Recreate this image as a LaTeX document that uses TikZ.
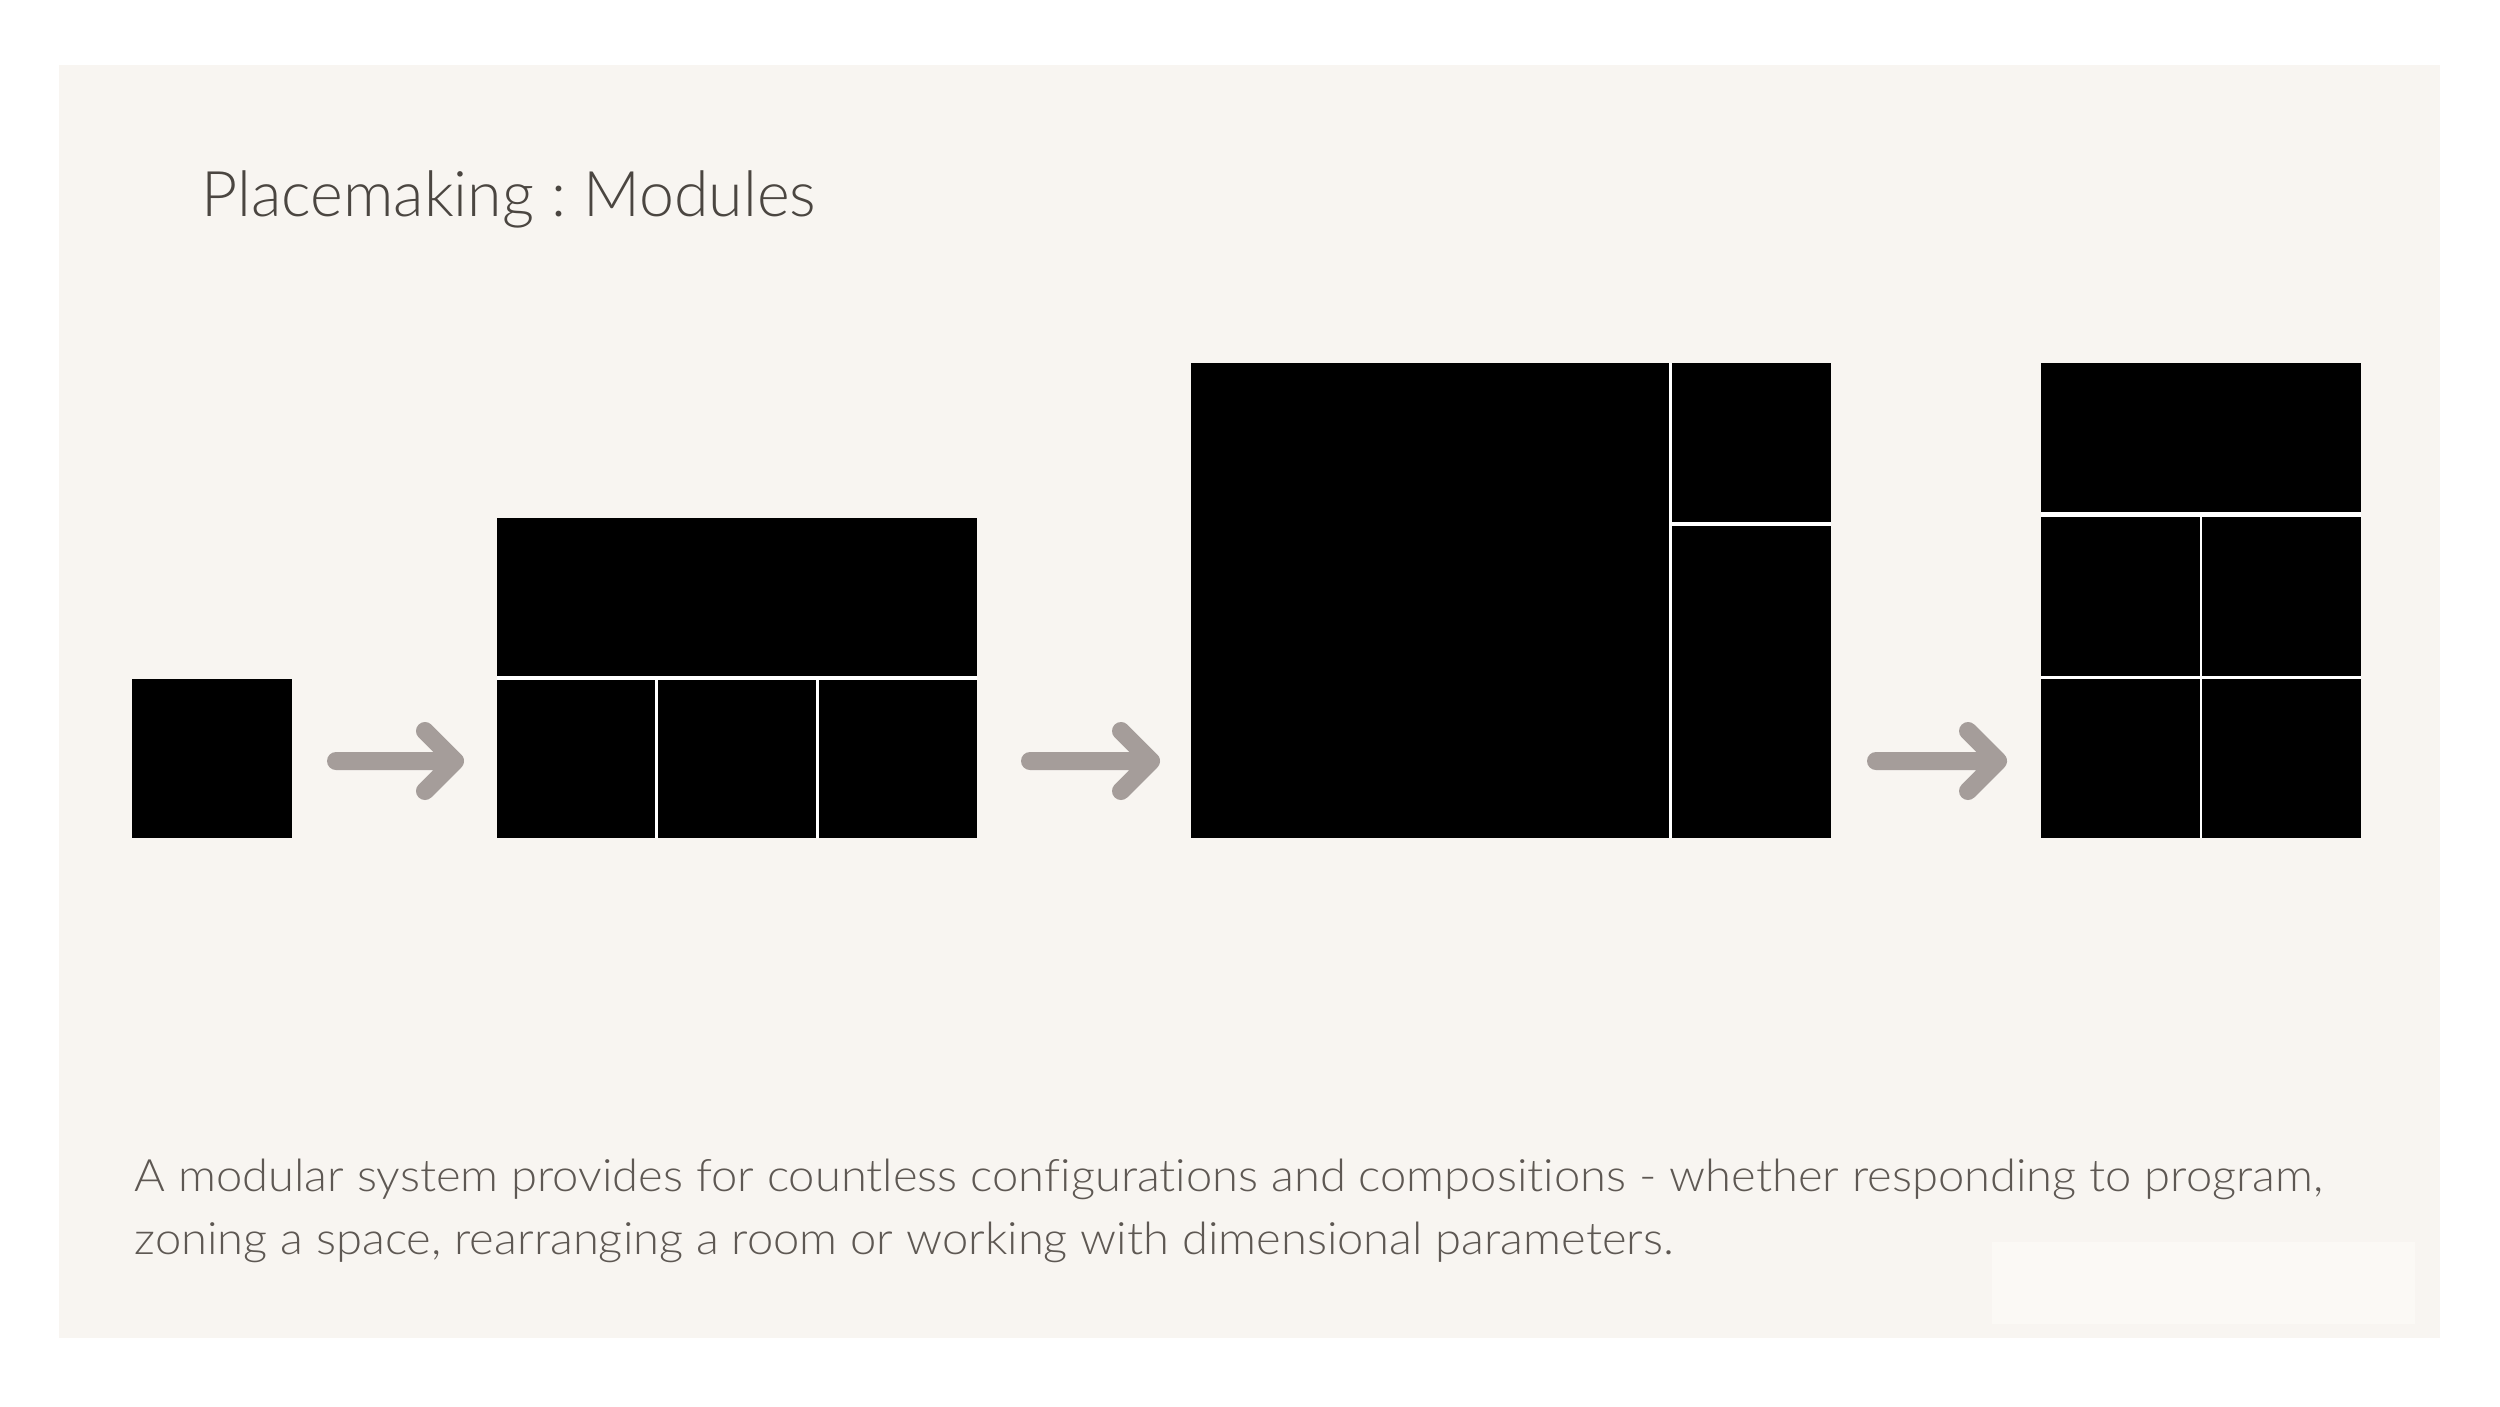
\documentclass[tikz,border=0pt]{standalone}
\usepackage{fontspec}
\usepackage{tikz}
\usetikzlibrary{positioning}
\newfontfamily\titlefont{Lato Light}[FakeStretch=0.995, Ligatures=NoCommon]
\newfontfamily\bodyfont{Lato Light}[FakeStretch=1.055, Ligatures=NoCommon]
\frenchspacing

\definecolor{panelbg}{HTML}{F8F5F1}
\definecolor{panelhi}{HTML}{FBF9F5}
\definecolor{arrowgrey}{HTML}{A59D9A}
\definecolor{titlegrey}{HTML}{4B4641}
\definecolor{bodygrey}{HTML}{5E5853}

\begin{document}
\begin{tikzpicture}[
  x=0.01cm, y=-0.01cm,
  module/.style={fill=black, inner sep=0pt, outer sep=0pt, anchor=north west},
  modarrow/.style={draw=arrowgrey, line width=0.18cm, line cap=round, line join=round},
  caption/.style={anchor=base west, inner sep=0pt, text=bodygrey, font=\bodyfont\fontsize{12.7}{17.9}\selectfont}
]
\useasboundingbox (0,0) rectangle (2500,1406);
\fill[white] (0,0) rectangle (2500,1406);
\fill[panelbg] (59,65) rectangle (2440,1338);
\fill[panelhi] (1992,1242) rectangle (2415,1324);

% title
\node[anchor=base west, inner sep=0pt, text=titlegrey, font=\titlefont\fontsize{17.9}{21}\selectfont]
  (title) at (201,216) {Placemaking : Modules};

% single module
\node[module, minimum width=1.6cm, minimum height=1.59cm] (one) at (132,679) {};

% row of three under a bar
\fill[white] (497,518) rectangle (977,838);
\node[module, minimum width=4.8cm, minimum height=1.58cm] (twotop) at (497,518) {};
\node[module, minimum width=1.58cm, minimum height=1.58cm] (twoa) at (497,680) {};
\node[module, minimum width=1.58cm, minimum height=1.58cm] (twob) at (658,680) {};
\node[module, minimum width=1.58cm, minimum height=1.58cm] (twoc) at (819,680) {};

% large room with side column
\fill[white] (1191,363) rectangle (1831,838);
\node[module, minimum width=4.78cm, minimum height=4.75cm] (threebig) at (1191,363) {};
\node[module, minimum width=1.59cm, minimum height=1.59cm] (threetop) at (1672,363) {};
\node[module, minimum width=1.59cm, minimum height=3.12cm] (threelow) at (1672,526) {};

% bar over a grid of four
\fill[white] (2041,363) rectangle (2361,838);
\node[module, minimum width=3.2cm, minimum height=1.49cm] (fourtop) at (2041,363) {};
\node[module, minimum width=1.59cm, minimum height=1.59cm] (fourml) at (2041,517) {};
\node[module, minimum width=1.59cm, minimum height=1.59cm] (fourmr) at (2202,517) {};
\node[module, minimum width=1.59cm, minimum height=1.59cm] (fourbl) at (2041,679) {};
\node[module, minimum width=1.59cm, minimum height=1.59cm] (fourbr) at (2202,679) {};

% arrows
\coordinate (a1s) at (336,761);
\coordinate (a1e) at (455,761);
\coordinate (a2s) at (1030,761);
\coordinate (a2e) at (1151,761);
\coordinate (a3s) at (1876,761);
\coordinate (a3e) at (1998,761);
\foreach \s/\e in {a1s/a1e, a2s/a2e, a3s/a3e}
  \draw[modarrow] (\s) -- (\e) -- +(-30,-30) (\e) -- +(-30,30);

% caption
\node[caption] (capone) at (134,1191) {A modular system provides for countless configurations and compositions - whether responding to program,};
\node[caption] (captwo) at (134,1254) {zoning a space, rearranging a room or working with dimensional parameters.};
\end{tikzpicture}
\end{document}
